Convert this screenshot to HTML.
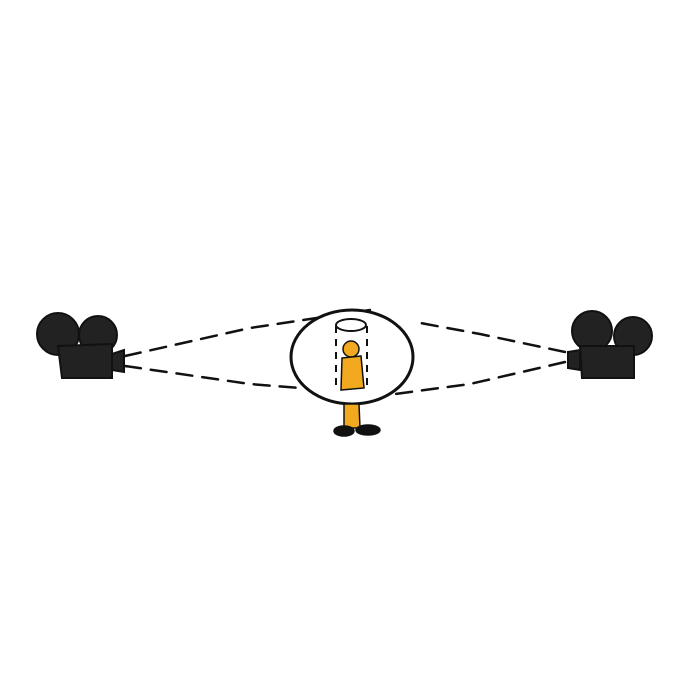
<!DOCTYPE html>
<html><head><meta charset="utf-8"><style>body{margin:0;background:#fff}svg{display:block}</style></head>
<body>
<svg width="700" height="700" viewBox="0 0 700 700">
<g stroke="#111" stroke-width="2.5" fill="none" stroke-dasharray="16 10" stroke-linecap="round">
<path d="M125 356 L250 328 L370 310"/>
<path d="M125 366 L250 384 L300 388"/>
<path d="M565 352 L480 334 L415 322"/>
<path d="M565 362 L470 384 L380 396"/>
</g>
<ellipse cx="352" cy="357" rx="61" ry="47" fill="#fff" stroke="#111" stroke-width="3"/>
<g>
<ellipse cx="351" cy="325" rx="15" ry="6" fill="none" stroke="#111" stroke-width="2"/>
<line x1="336" y1="326" x2="336" y2="388" stroke="#111" stroke-width="2" stroke-dasharray="7 6"/>
<line x1="367" y1="326" x2="367" y2="388" stroke="#111" stroke-width="2" stroke-dasharray="7 6"/>
</g>
<g stroke="#111" stroke-width="1.5">
<circle cx="351" cy="349" r="8" fill="#f2a91f"/>
<path d="M342 358 L361 356 L364 388 L341 390 Z" fill="#f2a91f"/>
<path d="M344 404 L359 404 L360 428 L344 428 Z" fill="#f2a91f"/>
<ellipse cx="344" cy="431" rx="10" ry="5" fill="#111"/>
<ellipse cx="368" cy="430" rx="12" ry="5" fill="#111"/>
</g>
<g fill="#222" stroke="#111" stroke-width="2">
<circle cx="58" cy="334" r="21"/>
<circle cx="98" cy="335" r="19"/>
<path d="M58 346 L112 344 L112 378 L62 378 Z"/>
<path d="M112 354 L124 350 L124 372 L112 370 Z"/>
</g>
<g fill="#222" stroke="#111" stroke-width="2">
<circle cx="592" cy="331" r="20"/>
<circle cx="633" cy="336" r="19"/>
<path d="M580 346 L634 346 L634 378 L582 378 Z"/>
<path d="M568 352 L580 350 L580 370 L568 368 Z"/>
</g>
</svg>
</body></html>
